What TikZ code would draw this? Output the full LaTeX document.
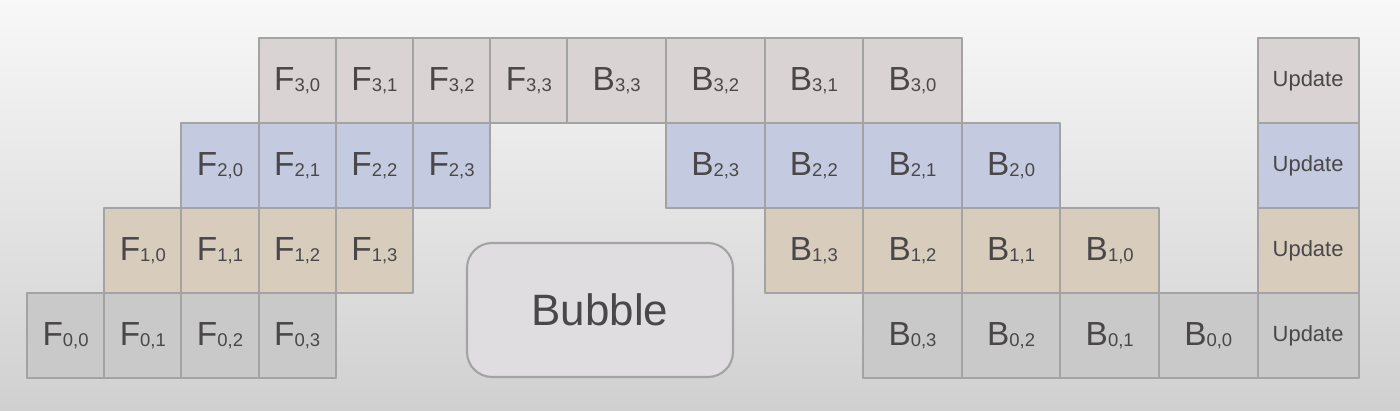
\documentclass[tikz,border=0pt]{standalone}
\usepackage{fontspec}
\setmainfont{Liberation Sans}

% row colours (row 0 at the bottom)
\definecolor{row0}{RGB}{201,201,202}
\definecolor{row1}{RGB}{216,205,189}
\definecolor{row2}{RGB}{196,203,224}
\definecolor{row3}{RGB}{217,211,212}
\definecolor{cellline}{RGB}{163,163,163}
\definecolor{txt}{RGB}{74,71,73}
\definecolor{bgtop}{RGB}{248,248,248}
\definecolor{bgmid}{RGB}{231,231,232}
\definecolor{bgbot}{RGB}{208,208,208}
\definecolor{bubblefill}{RGB}{223,221,224}

% small index after F and B
\newcommand{\idx}[1]{\raisebox{-0.6pt}{\fontsize{10.5}{10.5}\selectfont #1}}

\begin{document}
\begin{tikzpicture}[x=0.02cm, y=0.02cm, line join=round,
    cell/.style={draw=cellline, line width=1.1pt, anchor=south west,
      minimum height=1.7cm, inner sep=0pt, outer sep=0pt, text=txt,
      font=\fontsize{19}{19}\selectfont},
    fcell/.style={cell, minimum width=1.544cm},
    bcell/.style={cell, minimum width=1.972cm},
    ucell/.style={cell, minimum width=2.02cm, font=\fontsize{12.5}{12.5}\selectfont},
    bubblebox/.style={draw=cellline, line width=1.2pt, fill=bubblefill,
      rounded corners=0.5cm, minimum width=5.32cm, minimum height=2.68cm,
      text=txt, font=\fontsize{25}{25}\selectfont}]
  % Define parameters
  \def\xF{27}      % left edge of the forward block
  \def\wF{77.2}    % width of a forward cell
  \def\xB{567.4}   % left edge of the backward block
  \def\wB{98.6}    % width of a backward cell
  \def\xU{1257.6}  % left edge of the update column
  \def\yB{33}      % bottom of row 0
  \def\hR{85}      % row height

  % Background
  \useasboundingbox (0,0) rectangle (1400,411);
  \shade[top color=bgtop, middle color=bgmid, bottom color=bgbot] (0,0) rectangle (1400,411);

  % Forward passes: F_{i,j} sits in column i+j
  \foreach \i in {0,...,3}{
    \foreach \j in {0,...,3}{
      \pgfmathsetmacro{\xf}{\xF+(\i+\j)*\wF}
      \pgfmathsetmacro{\yr}{\yB+\i*\hR}
      \node[fcell, fill=row\i] (f\i\j) at (\xf,\yr) {F\idx{\i,\j}};
    }
  }

  % Backward passes: B_{i,j} sits in column (3-i)+(3-j)
  \foreach \i in {0,...,3}{
    \foreach \j in {0,...,3}{
      \pgfmathsetmacro{\xb}{\xB+(6-\i-\j)*\wB}
      \pgfmathsetmacro{\yr}{\yB+\i*\hR}
      \node[bcell, fill=row\i] (b\i\j) at (\xb,\yr) {B\idx{\i,\j}};
    }
  }

  % Update column
  \foreach \i in {0,...,3}{
    \pgfmathsetmacro{\yr}{\yB+\i*\hR}
    \node[ucell, fill=row\i] (upd\i) at (\xU,\yr) {Update};
  }

  % Bubble
  \node[bubblebox] (bubble) at (600,101) {Bubble};
\end{tikzpicture}
\end{document}
